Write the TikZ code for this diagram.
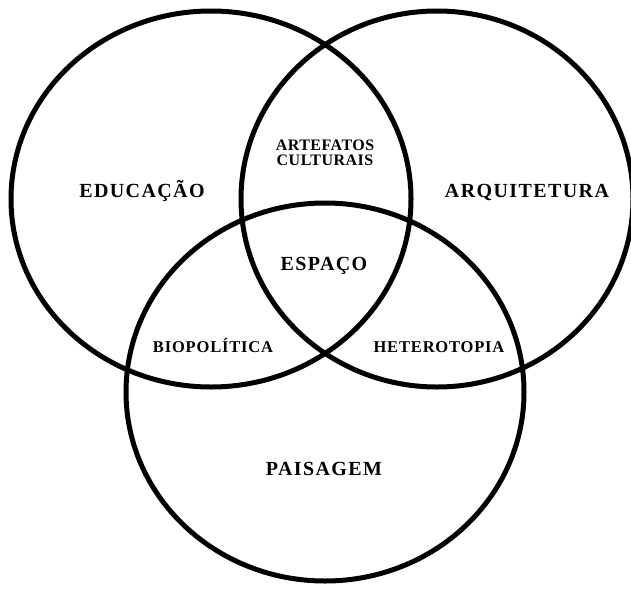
\documentclass[tikz,border=0pt]{standalone}
\usepackage{fontspec}
\setmainfont{Liberation Serif}
\usepackage{tikz}
\newcommand{\bigtagfont}{\fontsize{20}{20}\selectfont\bfseries\addfontfeatures{LetterSpace=7}}
\newcommand{\smalltagfont}{\fontsize{16.5}{16.5}\selectfont\bfseries\addfontfeatures{LetterSpace=5}}
\newcommand{\pairtagfont}{\fontsize{16}{16}\selectfont\bfseries\addfontfeatures{LetterSpace=3}}
\tikzset{
  setline/.style={draw=black, line width=5pt},
  bigtag/.style={font=\bigtagfont, inner sep=0pt, anchor=base},
  smalltag/.style={font=\smalltagfont, inner sep=0pt, anchor=base},
  pairtag/.style={font=\pairtagfont, inner sep=0pt, anchor=base},
}

\begin{document}
\begin{tikzpicture}[x=1pt, y=-1pt]
\useasboundingbox (0,0) rectangle (631,589);
\fill[white] (0,0) rectangle (631,589);
\clip (0,0) rectangle (631,589);

% ---------------- the three sets -------------------------------------------
\draw[setline] (211,199) ellipse (200 and 188);
\draw[setline] (437,199) ellipse (196 and 188);
\draw[setline] (325,392) ellipse (199 and 189);

% ---------------- labels of the sets ---------------------------------------
\node[bigtag] (educacao) at (142,197) {EDUCAÇÃO};
\node[bigtag] (arquitetura) at (527,197) {ARQUITETURA};
\node[bigtag] (paisagem) at (324,475) {PAISAGEM};

% ---------------- overlaps -------------------------------------------------
\node[pairtag] (artefatos) at (325,150) {ARTEFATOS};
\node[pairtag] (culturais) at (325,165) {CULTURAIS};
\node[smalltag] (biopolitica) at (213,352) {BIOPOLÍTICA};
\node[smalltag] (heterotopia) at (439,352) {HETEROTOPIA};
\node[bigtag] (espaco) at (324,270) {ESPAÇO};

\end{tikzpicture}
\end{document}
